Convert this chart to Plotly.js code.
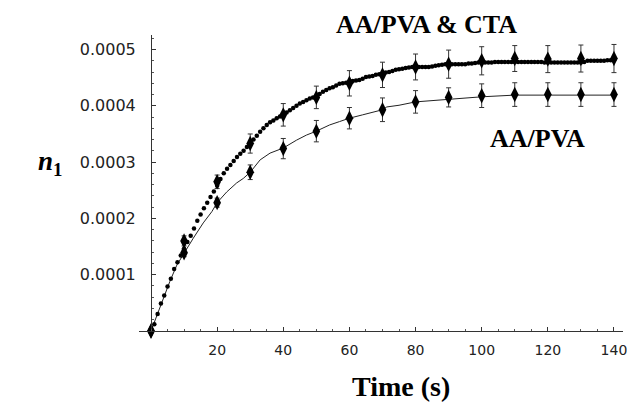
<!DOCTYPE html>
<html>
<head>
<meta charset="utf-8">
<script src="https://cdn.plot.ly/plotly-3.0.1.min.js"></script>
<style>html,body{margin:0;padding:0;background:#fff;}#chart{width:627px;height:403px;}</style>
</head>
<body>
<div id="chart"></div>
<script>
// Dense measurement series (AA/PVA & CTA), one point per second, values x1e-4
const denseTime = [];
for (let i = 0; i <= 140; i++) denseTime.push(i);
const denseCTA = [
0,0.12,0.30,0.49,0.63,0.79,0.93,1.10,1.22,1.34,
1.46,1.58,1.69,1.82,1.96,2.07,2.18,2.28,2.38,2.48,
2.58,2.70,2.80,2.88,2.95,3.02,3.09,3.15,3.20,3.27,
3.33,3.40,3.47,3.54,3.60,3.66,3.71,3.74,3.78,3.81,
3.84,3.88,3.92,3.96,4.00,4.04,4.07,4.10,4.13,4.15,
4.17,4.21,4.25,4.28,4.31,4.33,4.36,4.39,4.40,4.41,
4.42,4.44,4.45,4.46,4.48,4.51,4.52,4.53,4.55,4.56,
4.57,4.59,4.60,4.62,4.64,4.65,4.66,4.67,4.68,4.69,
4.69,4.69,4.69,4.69,4.69,4.70,4.71,4.72,4.73,4.74,
4.74,4.74,4.74,4.74,4.74,4.74,4.75,4.75,4.76,4.77,
4.77,4.77,4.77,4.77,4.78,4.78,4.78,4.78,4.78,4.78,
4.78,4.78,4.78,4.78,4.78,4.78,4.78,4.78,4.78,4.77,
4.77,4.77,4.77,4.77,4.77,4.77,4.77,4.77,4.77,4.77,
4.77,4.78,4.80,4.80,4.80,4.80,4.80,4.80,4.81,4.81,
4.81];

// Thin line for AA/PVA, values x1e-4
const lineTime = [0,2.7,5.7,7.8,10,12.8,15.8,18.4,20,22.9,25.9,27.9,30,33,36,40,44,47,50,54,57,60,64,67,70,71.3,75,80,84,86.4,90,100,110,120,130,140];
const linePVA  = [0,0.43,0.88,1.17,1.39,1.65,1.92,2.12,2.28,2.47,2.63,2.71,2.82,3.04,3.16,3.25,3.39,3.48,3.55,3.66,3.72,3.78,3.84,3.88,3.93,3.98,4.01,4.07,4.09,4.10,4.12,4.16,4.19,4.19,4.19,4.19];

// Averaged points with error bars, values x1e-4
const avgTime = [0,10,20,30,40,50,60,70,80,90,100,110,120,130,140];
const avgCTA  = [0,1.60,2.65,3.33,3.84,4.15,4.40,4.55,4.69,4.74,4.80,4.84,4.83,4.84,4.84];
const errCTA  = [0,0.09,0.12,0.17,0.20,0.20,0.225,0.225,0.23,0.25,0.25,0.23,0.24,0.24,0.25];
const avgPVA  = [0,1.39,2.28,2.82,3.24,3.55,3.78,3.93,4.07,4.15,4.18,4.20,4.20,4.20,4.20];
const errPVA  = [0,0.07,0.08,0.13,0.18,0.19,0.19,0.21,0.20,0.17,0.21,0.21,0.21,0.21,0.21];

const xTickVals = [20,40,60,80,100,120,140];
const xTickText = ['20','40','60','80','100','120','140'];
const yTickVals = [0.0001,0.0002,0.0003,0.0004,0.0005];
const yTickText = ['0.0001','0.0002','0.0003','0.0004','0.0005'];

const sc = v => v.map(a => a * 1e-4);

const traces = [
  {x: lineTime, y: sc(linePVA), mode: 'lines', line: {color: '#222', width: 1}, cliponaxis: false, hoverinfo: 'skip'},
  {x: denseTime, y: sc(denseCTA), mode: 'markers', marker: {color: '#000', size: 4.5, symbol: 'circle'}, cliponaxis: false},
  {x: avgTime, y: sc(avgCTA), mode: 'markers', marker: {color: '#000', size: 11, symbol: 'diamond-tall'}, cliponaxis: false,
   error_y: {type: 'data', array: sc(errCTA), visible: true, color: '#333', thickness: 1, width: 2.5}},
  {x: avgTime, y: sc(avgPVA), mode: 'markers', marker: {color: '#000', size: 11, symbol: 'diamond-tall'}, cliponaxis: false,
   error_y: {type: 'data', array: sc(errPVA), visible: true, color: '#333', thickness: 1, width: 2.5}}
];

// plot area in pixels: left 139, right 623, top 35, bottom 331
const PL = 139, PW = 484, PT = 35, PH = 296;
const px = x => (x - PL) / PW;
const py = y => (PT + PH - y) / PH;

const layout = {
  width: 627, height: 403,
  margin: {l: PL, r: 627 - PL - PW, t: PT, b: 403 - PT - PH},
  paper_bgcolor: '#fff', plot_bgcolor: '#fff',
  showlegend: false,
  xaxis: {
    range: [-3.63, 142.73], showgrid: false, zeroline: false,
    showline: true, linecolor: '#333', linewidth: 1,
    ticks: 'inside', ticklen: 4, tickcolor: '#333', tickwidth: 1,
    tickvals: xTickVals, ticktext: xTickText,
    tickfont: {family: 'DejaVu Sans', size: 14, color: '#222'},
    ticklabelstandoff: 6, ticklabeloverflow: 'allow',
    minor: {ticks: 'inside', dtick: 5, tick0: 0, ticklen: 2, tickcolor: '#555', showgrid: false}
  },
  yaxis: {
    range: [0, 0.0005258], showgrid: false, zeroline: false,
    anchor: 'free', position: 0.0248,
    showline: true, linecolor: '#333', linewidth: 1,
    ticks: 'inside', ticklen: 4, tickcolor: '#333', tickwidth: 1,
    tickvals: yTickVals, ticktext: yTickText,
    tickfont: {family: 'DejaVu Sans', size: 16, color: '#222'},
    ticklabelstandoff: 12,
    minor: {ticks: 'inside', dtick: 0.00002, tick0: 0, ticklen: 2, tickcolor: '#555', showgrid: false}
  },
  annotations: [
    {xref: 'paper', yref: 'paper', x: px(50), y: py(163), text: '<b><i>n</i></b><sub><b>1</b></sub>', showarrow: false,
     font: {family: 'Liberation Serif', size: 27, color: '#000'}, xanchor: 'center', yanchor: 'middle'},
    {xref: 'paper', yref: 'paper', x: px(426), y: py(24), text: '<b>AA/PVA &amp; CTA</b>', showarrow: false,
     font: {family: 'Liberation Serif', size: 26, color: '#000'}, xanchor: 'center', yanchor: 'middle'},
    {xref: 'paper', yref: 'paper', x: px(537), y: py(138), text: '<b>AA/PVA</b>', showarrow: false,
     font: {family: 'Liberation Serif', size: 26, color: '#000'}, xanchor: 'center', yanchor: 'middle'},
    {xref: 'paper', yref: 'paper', x: px(401), y: py(386), text: '<b>Time (s)</b>', showarrow: false,
     font: {family: 'Liberation Serif', size: 28, color: '#000'}, xanchor: 'center', yanchor: 'middle'}
  ]
};

Plotly.newPlot('chart', traces, layout, {displayModeBar: false, staticPlot: true});
</script>
</body>
</html>
